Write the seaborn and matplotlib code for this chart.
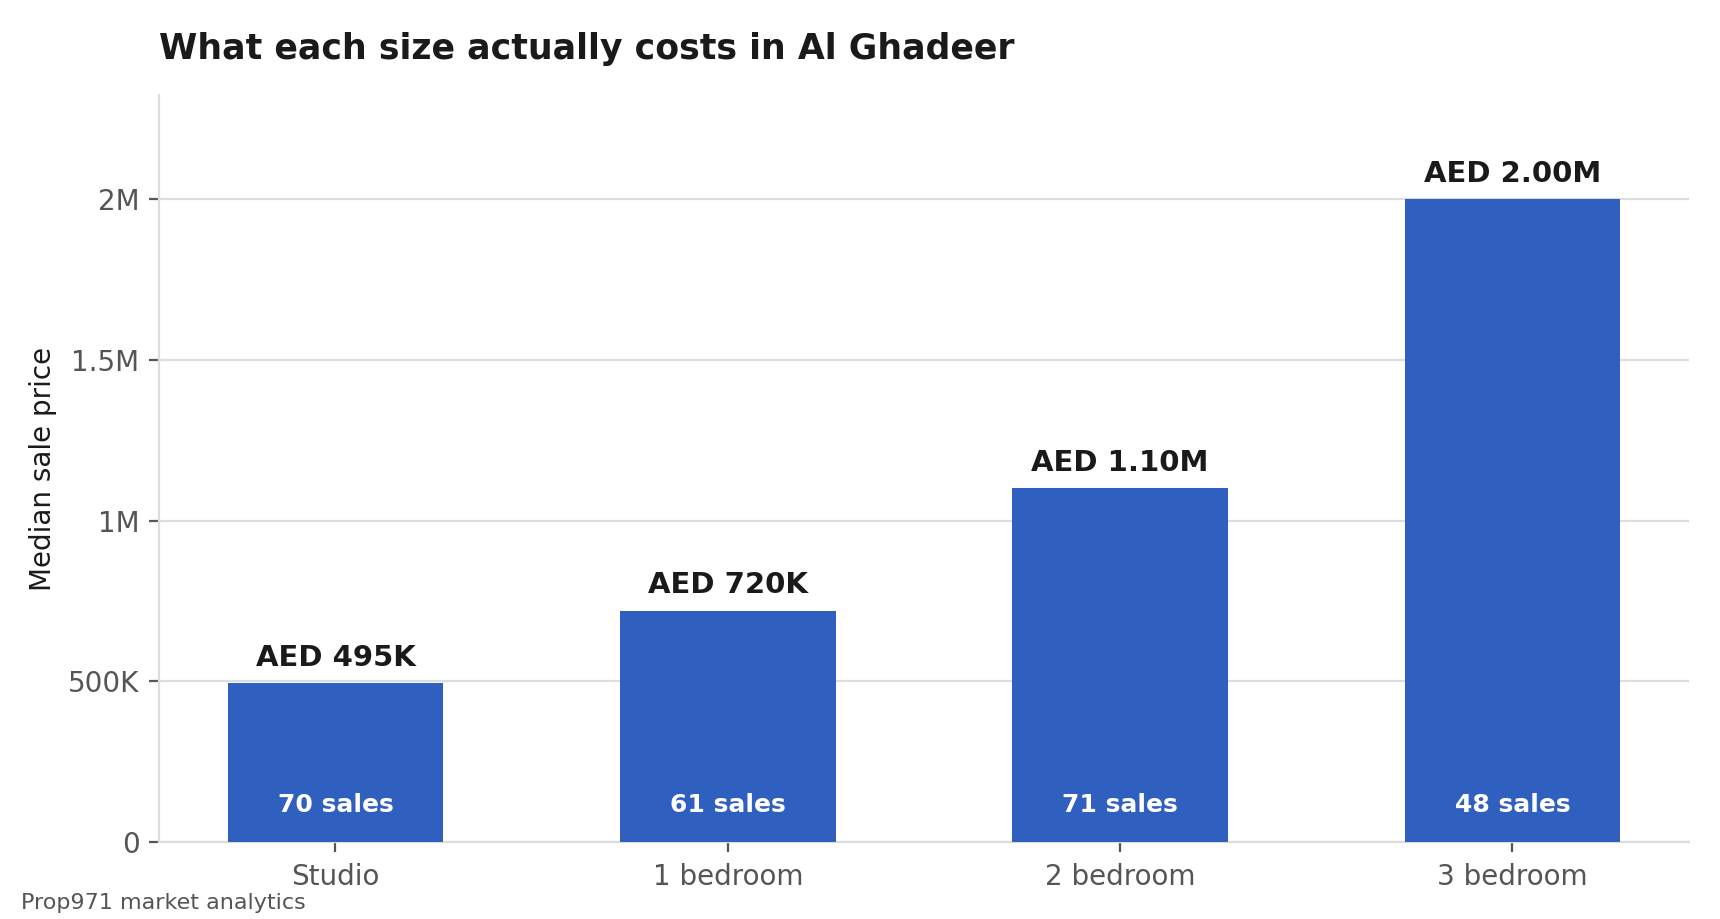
import matplotlib
matplotlib.use("Agg")
import matplotlib.pyplot as plt
import seaborn as sns
from matplotlib.ticker import FuncFormatter

# data
sizes = ["Studio", "1 bedroom", "2 bedroom", "3 bedroom"]
median_price = [495000, 720000, 1100000, 2000000]
sales_count = [70, 61, 71, 48]
price_labels = ["AED 495K", "AED 720K", "AED 1.10M", "AED 2.00M"]

bar_color = "#3060BF"
grid_color = "#dddddd"
tick_color = "#555555"

sns.set_style("white")
plt.rcParams["font.family"] = ["DejaVu Sans"]

fig = plt.figure(figsize=(8.6, 4.595), dpi=200)
ax = fig.add_axes([0.0924, 0.0838, 0.8896, 0.8128])

sns.barplot(x=sizes, y=median_price, color=bar_color, saturation=1,
            width=0.55, linewidth=0, ax=ax, zorder=3)

ax.set_xlim(-0.45, 3.45)
ax.set_ylim(0, max(median_price) * 1.162)
ax.set_yticks([0, 500000, 1000000, 1500000, 2000000])


def fmt(v, pos):
    if v == 0:
        return "0"
    if v >= 1e6:
        return f"{v / 1e6:g}M"
    return f"{v / 1e3:g}K"


ax.yaxis.set_major_formatter(FuncFormatter(fmt))
ax.grid(axis="y", color=grid_color, linewidth=0.8, zorder=0)
ax.grid(axis="x", visible=False)

for s in ["top", "right"]:
    ax.spines[s].set_visible(False)
for s in ["left", "bottom"]:
    ax.spines[s].set_color(grid_color)
    ax.spines[s].set_linewidth(0.8)

ax.tick_params(axis="both", colors=tick_color, labelsize=10, length=3.5,
               width=0.8, left=True, bottom=True)
ax.tick_params(axis="x", pad=4)

for i, (p, lab, n) in enumerate(zip(median_price, price_labels, sales_count)):
    ax.annotate(lab, (i, p), xytext=(0, 4), textcoords="offset points",
                ha="center", va="bottom", fontsize=10.5, fontweight="bold",
                color="#1a1a1a", zorder=5)
    ax.annotate(f"{n} sales", (i, 0), xytext=(0, 9), textcoords="offset points",
                ha="center", va="bottom", fontsize=9, fontweight="bold",
                color="white", zorder=5)

ax.set_xlabel("")
ax.set_ylabel("Median sale price", fontsize=10, color="#1a1a1a", labelpad=4)
ax.set_title("What each size actually costs in Al Ghadeer", loc="left",
             fontsize=12.5, fontweight="bold", color="#1a1a1a", pad=13)

fig.text(0.012, 0.006, "Prop971 market analytics", fontsize=8,
         color="#555555", ha="left", va="bottom")

fig.savefig("out.png", dpi=200)
